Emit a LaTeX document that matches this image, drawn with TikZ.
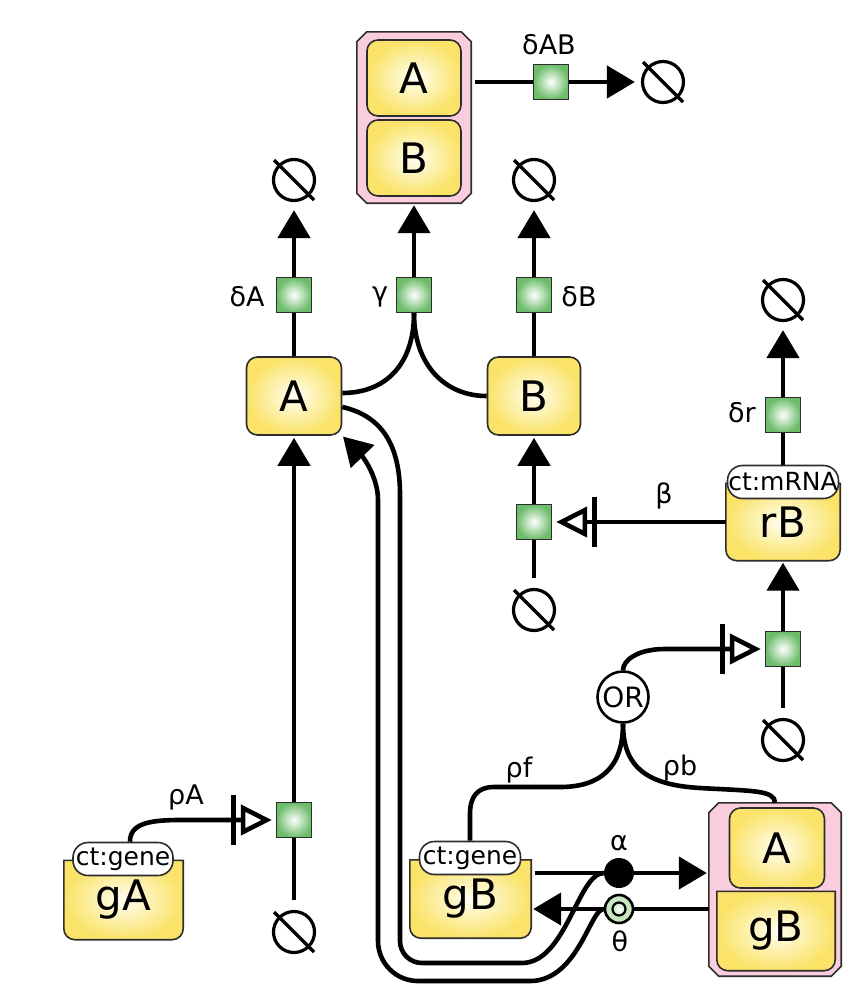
\documentclass[tikz,border=0pt]{standalone}
\usepackage{fontspec}
\setmainfont{DejaVu Sans}
\usetikzlibrary{arrows.meta,backgrounds,calc}

\definecolor{molyellow}{RGB}{250,227,104}
\definecolor{molcenter}{RGB}{255,254,242}
\definecolor{cpxpink}{RGB}{249,205,222}
\definecolor{pgreen}{RGB}{108,188,106}
\definecolor{bordergray}{RGB}{45,45,45}
\definecolor{lgreen}{RGB}{200,230,192}

\tikzset{
  conn/.style={line width=4.6pt, draw=black},
  bigtext/.style={font=\fontsize{42}{42}\selectfont},
  macro/.style={rectangle, rounded corners=11pt, draw=bordergray, line width=1.6pt,
    inner color=molcenter, outer color=molyellow, bigtext, inner sep=0,
    minimum width=95pt, minimum height=78pt},
  holder/.style={rectangle, inner sep=0, bigtext},
  shapefill/.style={draw=bordergray, line width=1.6pt, inner color=molcenter, outer color=molyellow},
  cpxfill/.style={draw=bordergray, line width=1.6pt, fill=cpxpink},
  pnode/.style={rectangle, draw=bordergray, line width=1.4pt, inner color=white,
    outer color=pgreen, minimum size=35pt, inner sep=0},
  sink/.style={circle, draw=black, line width=3.2pt, minimum size=41pt, inner sep=0},
  lbl/.style={font=\fontsize{27}{27}\selectfont, inner sep=0},
  uoi/.style={rectangle, rounded corners=15pt, draw=bordergray, line width=1.6pt, fill=white,
    minimum height=33pt, inner sep=0, font=\fontsize{25}{25}\selectfont},
  prod/.style={-{Triangle[width=32pt,length=28pt]}},
  stim/.style={-{Bar[width=50pt,length=4.6pt,sep=5pt] Triangle[open,width=30pt,length=31pt]}},
}

% empty-set symbol: circle with a slash
\newcommand\sinkat[2]{%
  \node[sink] (#1) at (#2) {};
  \draw[line width=3.2pt] ($(#1.center)+(-20,20)$) -- ($(#1.center)+(20,-20)$);}

% nucleic acid feature outline: square top, rounded bottom
\newcommand\nashape[1]{%
  \path[shapefill] (#1.north west) -- ($(#1.south west)+(0,11)$)
    arc[start angle=180,end angle=270,radius=11pt] -- ($(#1.south east)+(-11,0)$)
    arc[start angle=270,end angle=360,radius=11pt] -- (#1.north east) -- cycle;}

% complex outline: rectangle with cut corners
\newcommand\cpxshape[1]{%
  \path[cpxfill] ($(#1.north west)+(10,0)$) -- ($(#1.north east)+(-10,0)$)
    -- ($(#1.north east)+(0,-10)$) -- ($(#1.south east)+(0,10)$)
    -- ($(#1.south east)+(-10,0)$) -- ($(#1.south west)+(10,0)$)
    -- ($(#1.south west)+(0,10)$) -- ($(#1.north west)+(0,-10)$) -- cycle;}

\begin{document}
\begin{tikzpicture}[x=1pt,y=1pt]
\useasboundingbox (0,0) rectangle (843,-991);

% ---------- entity pool nodes ----------
\node[holder, minimum width=114pt, minimum height=171pt] (AB) at (414,-117.5) {};
\node[macro, minimum width=94pt, minimum height=76pt] (ABa) at (414,-78) {A};
\node[macro, minimum width=94pt, minimum height=76pt] (ABb) at (414,-158) {B};

\node[macro] (A) at (294,-396) {A};
\node[macro, minimum width=93pt] (B) at (534,-396) {B};

\node[holder, minimum width=114pt, minimum height=77pt] (rB) at (783,-522) {rB};
\node[holder, minimum width=119pt, minimum height=79pt] (gA) at (123.5,-900) {gA};
\node[holder, minimum width=121pt, minimum height=78pt] (gB) at (470.5,-899) {gB};

\node[holder, minimum width=132pt, minimum height=173pt] (AgB) at (775,-889.5) {};
\node[macro, minimum width=95pt, minimum height=80pt] (AgBa) at (777,-848) {A};
\node[holder, minimum width=118pt, minimum height=79pt] (AgBg) at (776,-931) {gB};

\begin{scope}[on background layer]
  \cpxshape{AB}
  \cpxshape{AgB}
  \nashape{rB}
  \nashape{gA}
  \nashape{gB}
  \nashape{AgBg}
\end{scope}

\node[uoi, minimum width=111pt] (rBl) at (783,-482) {ct:mRNA};
\node[uoi, minimum width=100pt] (gAl) at (123,-859) {ct:gene};
\node[uoi, minimum width=101pt] (gBl) at (470,-858) {ct:gene};

% ---------- process nodes ----------
\node[pnode] (pAB) at (551,-82) {};
\node[pnode] (pAd) at (294,-295) {};
\node[pnode] (pgam) at (414,-295) {};
\node[pnode] (pBd) at (534,-295) {};
\node[pnode] (pBp) at (534,-522) {};
\node[pnode] (prd) at (783,-415) {};
\node[pnode] (prp) at (783,-649) {};
\node[pnode] (pAp) at (294,-820) {};

\node[circle, draw=black, line width=2.6pt, fill=white, minimum size=51pt, inner sep=0,
  font=\fontsize{28}{28}\selectfont] (OR) at (623,-697) {OR};
\node[circle, fill=black, minimum size=30pt, inner sep=0] (alpha) at (619,-873) {};
\node[circle, draw=black, line width=2.6pt, fill=lgreen, minimum size=28pt, inner sep=0] (theta) at (619,-909) {};
\node[circle, draw=black, line width=2.2pt, inner color=white, outer color=lgreen, minimum size=13pt, inner sep=0] (thetain) at (theta) {};

% ---------- empty sets ----------
\sinkat{sAB}{663,-82}
\sinkat{sA}{294,-180}
\sinkat{sB}{534,-180}
\sinkat{sr}{783,-300}
\sinkat{sBin}{534,-610}
\sinkat{srin}{783,-740}
\sinkat{sAin}{294,-932}

% ---------- labels ----------
\node[lbl] (lAB) at (549,-45) {δAB};
\node[lbl] (lAd) at (247,-297) {δA};
\node[lbl] (lgam) at (380,-297) {γ};
\node[lbl] (lBd) at (579,-297) {δB};
\node[lbl] (lrd) at (742,-413) {δr};
\node[lbl] (lbeta) at (664,-496) {β};
\node[lbl] (lrA) at (186,-797) {ρA};
\node[lbl] (lrf) at (519,-770) {ρf};
\node[lbl] (lrb) at (680,-768) {ρb};
\node[lbl] (lal) at (619,-843) {α};
\node[lbl] (lth) at (620,-941) {θ};

% ---------- arcs ----------
% degradation of the AB complex
\draw[conn, shorten <=4pt] (pAB.west -| AB.east) -- (pAB.west);
\draw[conn, prod, shorten >=6pt] (pAB.east) -- (sAB.west);

% degradation of A and B
\draw[conn] (A.north) -- (pAd.south);
\draw[conn, prod, shorten >=8pt] (pAd.north) -- (sA.south);
\draw[conn] (B.north) -- (pBd.south);
\draw[conn, prod, shorten >=8pt] (pBd.north) -- (sB.south);

% association A + B -> AB
\draw[conn, prod, shorten >=2pt] (pgam.north) -- (AB.south);
\draw[conn] (pgam.south) .. controls (414,-365) and (385,-393) .. ([yshift=3pt]A.east);
\draw[conn] (pgam.south) .. controls (414,-365) and (445,-396) .. (B.west);

% production of B from rB
\draw[conn, shorten <=10pt] (sBin.north) -- (pBp.south);
\draw[conn, prod, shorten >=2pt] (pBp.north) -- (B.south);
\draw[conn, stim, shorten >=4pt] (pBp.east -| rB.west) -- (pBp.east);

% degradation and production of rB
\draw[conn] (rBl.north) -- (prd.south);
\draw[conn, prod, shorten >=8pt] (prd.north) -- (sr.south);
\draw[conn, shorten <=10pt] (srin.north) -- (prp.south);
\draw[conn, prod, shorten >=2pt] (prp.north) -- (rB.south);
\draw[conn, stim, shorten >=4pt] (OR.north) .. controls (623,-660) and (638,-649) .. (665,-649) -- (prp.west);

% inputs of the OR gate
\draw[conn] (OR.south) .. controls (623,-768) and (600,-787) .. (560,-787) -- (494,-787)
  .. controls (477,-787) and (470,-797) .. (470,-814) -- (gBl.north);
\draw[conn] (OR.south) .. controls (623,-768) and (648,-785) .. (700,-788)
  .. controls (752,-791) and (775,-790) .. (AgB.north);

% production of A from gA
\draw[conn, shorten <=10pt] (sAin.north) -- (pAp.south);
\draw[conn, prod, shorten >=2pt] (pAp.north) -- (A.south);
\draw[conn, stim, shorten >=4pt] ([xshift=7pt]gAl.north) .. controls (130,-824) and (148,-820) .. (180,-820) -- (pAp.west);

% binding of A to gB and release
\draw[conn, shorten <=4pt] (alpha -| gB.east) -- (alpha);
\draw[conn, prod, shorten >=2pt] (alpha) -- (alpha -| AgB.west);
\draw[conn] (theta -| AgB.west) -- (theta);
\draw[conn, prod, shorten >=2pt] (theta) -- (theta -| gB.east);

% A consumed by the binding
\draw[conn] (alpha.west) .. controls (578,-873) and (566,-963) .. (522,-963) -- (422,-963)
  arc[start angle=270,end angle=180,radius=22pt] -- (400,-495)
  .. controls (400,-445) and (382,-416) .. ([yshift=-11pt]A.east);
% A returned by the release
\draw[conn, prod, shorten >=1pt] (theta.west) .. controls (590,-909) and (578,-981) .. (530,-981) -- (418,-981)
  arc[start angle=270,end angle=180,radius=40pt] -- (378,-500)
  .. controls (378,-478) and (364,-458) .. (A.south east);

\end{tikzpicture}
\end{document}
